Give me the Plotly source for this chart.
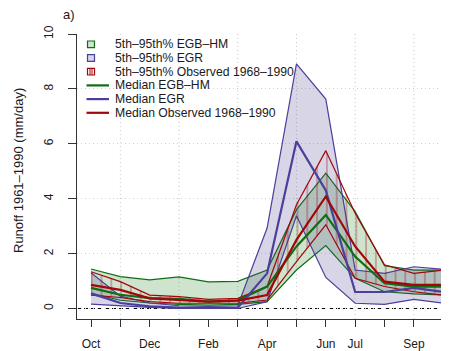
import plotly.graph_objects as go

# ---------------- data ----------------
months = list(range(1, 14))
month_labels = ["Oct", "", "Dec", "", "Feb", "", "Apr", "", "Jun", "Jul", "", "Sep", ""]
y_ticks = [0, 2, 4, 6, 8, 10]
grid_months = [2, 4, 6, 8, 10, 12]

egbhm_lo = [0.55, 0.30, 0.20, 0.15, 0.12, 0.15, 0.25, 1.40, 2.29, 1.10, 0.61, 0.53, 0.49]
egbhm_hi = [1.44, 1.16, 1.04, 1.15, 0.97, 0.99, 1.40, 3.60, 4.93, 3.53, 1.56, 1.40, 1.40]
egbhm_med = [0.75, 0.50, 0.38, 0.35, 0.25, 0.30, 0.80, 2.26, 3.41, 1.89, 0.92, 0.80, 0.80]

egr_lo = [0.16, 0.10, 0.04, 0.00, 0.00, 0.00, 0.25, 3.38, 1.13, 0.19, 0.15, 0.33, 0.19]
egr_hi = [1.30, 0.45, 0.20, 0.10, 0.08, 0.10, 2.93, 8.91, 7.63, 1.40, 1.28, 1.52, 1.43]
egr_med = [0.55, 0.20, 0.08, 0.03, 0.02, 0.03, 1.28, 6.09, 4.30, 0.60, 0.60, 0.75, 0.60]

obs_lo = [0.49, 0.40, 0.25, 0.19, 0.19, 0.19, 0.31, 1.71, 3.05, 1.10, 0.80, 0.61, 0.49]
obs_hi = [1.34, 0.98, 0.49, 0.43, 0.33, 0.37, 0.80, 3.78, 5.75, 3.47, 1.59, 1.28, 1.40]
obs_med = [0.86, 0.68, 0.37, 0.31, 0.25, 0.29, 0.49, 2.50, 4.08, 2.26, 0.98, 0.86, 0.86]

legend_labels = ["5th\u201395th% EGB\u2013HM", "5th\u201395th% EGR", "5th\u201395th% Observed 1968\u20131990",
                 "Median EGB\u2013HM", "Median EGR", "Median Observed 1968\u20131990"]

# ---------------- styles ----------------
GREEN = "#0f6e12"
PURPLE = "#4a3f9a"
RED = "#a0070b"
GREEN_FILL = "rgba(0,110,0,0.19)"
PURPLE_FILL = "rgba(72,61,139,0.21)"
FONT = "Liberation Sans, Arial, Helvetica, sans-serif"
TXT = "#1a1a1a"

OFF = 8  # default page body margin
W, H = 449 - OFF, 351 - OFF
L, R, T, B = 77 - OFF, 0, 34 - OFF, 32


def px2paper_x(px):
    # px given in window pixels
    return (px - OFF - L) / (W - L - R)


def px2paper_y(py):
    return (H - B - (py - OFF)) / (H - T - B)


fig = go.Figure()


def band(lo, hi, line_color, fill_color, pattern=None):
    xs = months + months[::-1]
    ys = hi + lo[::-1]
    kw = dict(x=xs, y=ys, mode="lines", fill="toself",
              line=dict(color=line_color, width=1.2),
              fillcolor=fill_color, hoverinfo="skip", showlegend=False)
    if pattern:
        kw["fillpattern"] = pattern
    fig.add_trace(go.Scatter(**kw))


band(egbhm_lo, egbhm_hi, GREEN, GREEN_FILL)
band(egr_lo, egr_hi, PURPLE, PURPLE_FILL)
band(obs_lo, obs_hi, RED, "rgba(0,0,0,0)",
     pattern=dict(shape="|", fgcolor=RED, bgcolor="rgba(0,0,0,0)", size=9.8,
                  solidity=0.12, fillmode="overlay"))

for med, c in [(egbhm_med, GREEN), (egr_med, PURPLE), (obs_med, RED)]:
    fig.add_trace(go.Scatter(x=months, y=med, mode="lines", line=dict(color=c, width=2.2),
                             hoverinfo="skip", showlegend=False))

shapes = []
# vertical dotted grid
for gm in grid_months:
    shapes.append(dict(type="line", xref="x", yref="paper", x0=gm, x1=gm, y0=0, y1=1,
                       line=dict(color="#c8c8c8", width=1, dash="1px,3px"), layer="below"))
# zero dashed line
shapes.append(dict(type="line", xref="paper", yref="y", x0=0, x1=1, y0=0, y1=0,
                   line=dict(color="black", width=1, dash="4px,3px"), layer="below"))

# manual legend (R style, compact)
rows = [44.3, 58.0, 71.7, 85.4, 99.1, 112.8]
sq_style = [(GREEN, GREEN_FILL), (PURPLE, PURPLE_FILL), (RED, "white")]
annotations = []
for i, (lc, fc) in enumerate(sq_style):
    py = rows[i]
    shapes.append(dict(type="rect", xref="paper", yref="paper",
                       x0=px2paper_x(87.5), x1=px2paper_x(94.5),
                       y0=px2paper_y(py + 3.3), y1=px2paper_y(py - 3.3),
                       line=dict(color=lc, width=1.2), fillcolor=fc))
    if i == 2:
        for xx in (90, 92):
            shapes.append(dict(type="line", xref="paper", yref="paper",
                               x0=px2paper_x(xx), x1=px2paper_x(xx),
                               y0=px2paper_y(py + 3.3), y1=px2paper_y(py - 3.3),
                               line=dict(color=lc, width=1)))
for i, lc in enumerate([GREEN, PURPLE, RED]):
    py = rows[3 + i]
    shapes.append(dict(type="line", xref="paper", yref="paper",
                       x0=px2paper_x(86.5), x1=px2paper_x(109),
                       y0=px2paper_y(py), y1=px2paper_y(py),
                       line=dict(color=lc, width=2.2)))
for i, lab in enumerate(legend_labels):
    annotations.append(dict(text=lab, xref="paper", yref="paper",
                            x=px2paper_x(113), y=px2paper_y(rows[i]),
                            xanchor="left", yanchor="middle", showarrow=False,
                            font=dict(family=FONT, size=12.2, color=TXT)))

# panel label and y title
annotations.append(dict(text="a)", xref="paper", yref="paper",
                        x=px2paper_x(61), y=px2paper_y(14), xanchor="left", yanchor="middle",
                        showarrow=False, font=dict(family=FONT, size=13, color=TXT)))
annotations.append(dict(text="Runoff 1961\u20131990 (mm/day)", xref="paper", yref="paper",
                        x=px2paper_x(18), y=px2paper_y(171), xanchor="center", yanchor="middle",
                        textangle=-90, showarrow=False,
                        font=dict(family=FONT, size=13, color=TXT)))

fig.update_layout(
    width=W, height=H,
    margin=dict(l=L, r=R, t=T, b=B),
    plot_bgcolor="white", paper_bgcolor="white",
    showlegend=False,
    shapes=shapes, annotations=annotations,
    xaxis=dict(range=[0.523, 13.197], tickmode="array", tickvals=months, ticktext=month_labels,
               ticks="outside", ticklen=7, tickwidth=1, tickcolor="#333",
               showline=True, linecolor="#333", linewidth=1, mirror=False,
               showgrid=False, zeroline=False, automargin=False,
               tickfont=dict(family=FONT, size=12, color=TXT), ticklabelstandoff=7),
    yaxis=dict(range=[-0.383, 10], tickmode="array", tickvals=y_ticks,
               ticks="outside", ticklen=8, tickwidth=1, tickcolor="#333", tickangle=-90,
               showline=True, linecolor="#333", linewidth=1,
               showgrid=True, gridcolor="#d0d0d0", griddash="1px,3px", gridwidth=1,
               zeroline=False, automargin=False,
               tickfont=dict(family=FONT, size=12, color=TXT), ticklabelstandoff=10),
)

fig.write_html("out.html")
